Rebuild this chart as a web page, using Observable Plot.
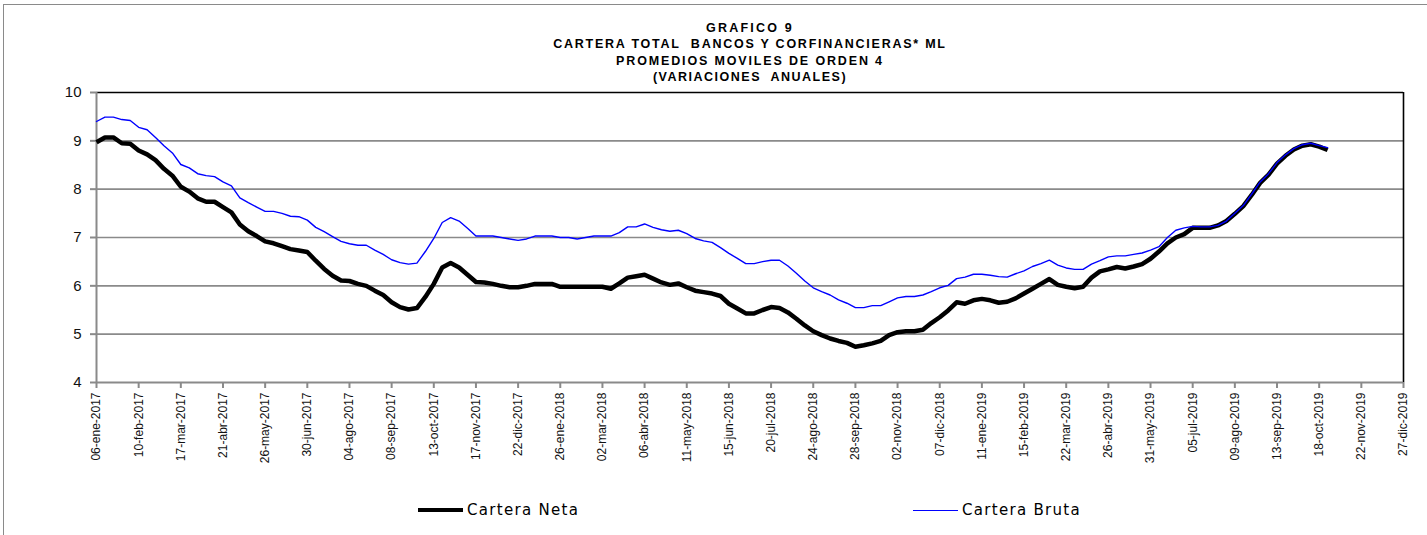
<!DOCTYPE html>
<html>
<head>
<meta charset="utf-8">
<script src="https://cdn.jsdelivr.net/npm/d3@7"></script>
<script src="https://cdn.jsdelivr.net/npm/@observablehq/plot@0.6"></script>
<style>
  html, body { margin: 0; padding: 0; background: #fff; }
  #wrap { position: relative; width: 1427px; height: 535px; overflow: hidden; }
  #frame { position: absolute; left: 3px; top: 4px; width: 1440px; height: 560px;
           border-top: 1.5px solid #8a8a8a; border-left: 1.5px solid #8a8a8a; }
  #title { position: absolute; left: 0; width: 1500px; top: 20px; text-align: center;
           font-family: "Liberation Sans", Arial, sans-serif; font-weight: bold; font-size: 12.5px;
           line-height: 16.3px; color: #000; }
  #title div { white-space: pre; }
  #chart { position: absolute; left: 0; top: 0; }
  .leg { position: absolute; top: 501px; font-family: "DejaVu Sans", Verdana, sans-serif;
         font-size: 15px; letter-spacing: 1.3px; color: #000; display: flex; align-items: center; }
  .leg .sw { display: inline-block; width: 45px; margin-right: 4px; }
</style>
</head>
<body>
<div id="wrap">
  <div id="frame"></div>
  <div id="title"></div>
  <div id="chart"></div>
  <div class="leg" id="leg1" style="left:418px"><span class="sw" style="border-top:4.5px solid #000"></span><span id="l1"></span></div>
  <div class="leg" id="leg2" style="left:913px"><span class="sw" style="border-top:1.5px solid #0000ff"></span><span id="l2"></span></div>
</div>
<script>
const titleLines = [
  "GRAFICO 9",
  "CARTERA TOTAL  BANCOS Y CORFINANCIERAS* ML",
  "PROMEDIOS MOVILES DE ORDEN 4",
  "(VARIACIONES  ANUALES)"
];
const seriesNames = ["Cartera Neta", "Cartera Bruta"];
const firstWeek = "2017-01-06";

const carteraNeta = [
  8.97, 9.07, 9.07, 8.95, 8.94, 8.80, 8.72, 8.60, 8.42, 8.28,
  8.05, 7.95, 7.81, 7.74, 7.74, 7.63, 7.52, 7.27, 7.13, 7.03,
  6.92, 6.88, 6.82, 6.76, 6.73, 6.70, 6.52, 6.35, 6.21, 6.11,
  6.10, 6.04, 6.00, 5.90, 5.81, 5.66, 5.56, 5.51, 5.54, 5.77,
  6.04, 6.38, 6.47, 6.38, 6.23, 6.08, 6.07, 6.04, 6.00, 5.97,
  5.97, 6.00, 6.04, 6.04, 6.04, 5.98, 5.98, 5.98, 5.98, 5.98,
  5.98, 5.94, 6.05, 6.17, 6.20, 6.23, 6.15, 6.07, 6.02, 6.05,
  5.97, 5.90, 5.87, 5.84, 5.79, 5.63, 5.53, 5.43, 5.43, 5.50,
  5.56, 5.54, 5.45, 5.32, 5.18, 5.06, 4.98, 4.91, 4.86, 4.82,
  4.74, 4.77, 4.81, 4.86, 4.98, 5.04, 5.06, 5.06, 5.09, 5.23,
  5.35, 5.49, 5.66, 5.63, 5.70, 5.73, 5.70, 5.65, 5.67, 5.74,
  5.84, 5.94, 6.04, 6.14, 6.02, 5.98, 5.95, 5.98, 6.17, 6.30,
  6.34, 6.39, 6.36, 6.40, 6.45, 6.56, 6.71, 6.88, 7.00, 7.07,
  7.20, 7.20, 7.20, 7.25, 7.34, 7.49, 7.65, 7.88, 8.13, 8.30,
  8.53, 8.69, 8.82, 8.90, 8.93, 8.88, 8.81
];
const carteraBruta = [
  9.40, 9.49, 9.49, 9.44, 9.42, 9.28, 9.23, 9.07, 8.90, 8.75,
  8.51, 8.44, 8.32, 8.28, 8.26, 8.15, 8.07, 7.82, 7.72, 7.63,
  7.54, 7.54, 7.50, 7.44, 7.43, 7.36, 7.21, 7.12, 7.02, 6.92,
  6.87, 6.84, 6.84, 6.74, 6.65, 6.54, 6.48, 6.45, 6.47, 6.71,
  6.98, 7.31, 7.41, 7.34, 7.19, 7.03, 7.03, 7.03, 7.00, 6.97,
  6.94, 6.97, 7.03, 7.03, 7.03, 7.00, 7.00, 6.97, 7.00, 7.03,
  7.03, 7.03, 7.10, 7.22, 7.22, 7.28, 7.21, 7.16, 7.13, 7.15,
  7.08, 6.98, 6.93, 6.90, 6.79, 6.67, 6.57, 6.46, 6.46, 6.50,
  6.53, 6.53, 6.41, 6.26, 6.10, 5.96, 5.88, 5.81, 5.71, 5.64,
  5.55, 5.55, 5.59, 5.59, 5.67, 5.75, 5.78, 5.78, 5.81, 5.88,
  5.96, 6.01, 6.15, 6.18, 6.24, 6.24, 6.22, 6.19, 6.18, 6.25,
  6.31, 6.40, 6.46, 6.53, 6.43, 6.37, 6.34, 6.34, 6.45, 6.52,
  6.60, 6.62, 6.62, 6.65, 6.68, 6.74, 6.81, 7.00, 7.15, 7.20,
  7.23, 7.22, 7.22, 7.25, 7.34, 7.50, 7.66, 7.90, 8.15, 8.32,
  8.55, 8.71, 8.84, 8.92, 8.95, 8.90, 8.86
];
const xTickLabels = [
  "06-ene-2017", "10-feb-2017", "17-mar-2017", "21-abr-2017", "26-may-2017", "30-jun-2017",
  "04-ago-2017", "08-sep-2017", "13-oct-2017", "17-nov-2017", "22-dic-2017", "26-ene-2018",
  "02-mar-2018", "06-abr-2018", "11-may-2018", "15-jun-2018", "20-jul-2018", "24-ago-2018",
  "28-sep-2018", "02-nov-2018", "07-dic-2018", "11-ene-2019", "15-feb-2019", "22-mar-2019",
  "26-abr-2019", "31-may-2019", "05-jul-2019", "09-ago-2019", "13-sep-2019", "18-oct-2019",
  "22-nov-2019", "27-dic-2019"
];
const yTicks = [4, 5, 6, 7, 8, 9, 10];
const yGrid = [5, 6, 7, 8, 9];

const monthIdx = {ene:0, feb:1, mar:2, abr:3, may:4, jun:5, jul:6, ago:7, sep:8, oct:9, nov:10, dic:11};
function parseEs(s) {
  const [d, m, y] = s.split("-");
  return new Date(Date.UTC(+y, monthIdx[m], +d));
}
const tickDates = xTickLabels.map(parseEs);
const labelOf = new Map(tickDates.map((d, i) => [+d, xTickLabels[i]]));
const start = d3.utcParse("%Y-%m-%d")(firstWeek);

const rows = [];
carteraNeta.forEach((v, i) => rows.push({date: d3.utcDay.offset(start, 7 * i), value: v, serie: seriesNames[0]}));
carteraBruta.forEach((v, i) => rows.push({date: d3.utcDay.offset(start, 7 * i), value: v, serie: seriesNames[1]}));

const titleSpacing = ["2.2px", "1.75px", "1.85px", "1.5px"];
const titleEl = document.getElementById("title");
titleLines.forEach((t, i) => {
  const d = document.createElement("div");
  d.textContent = t;
  d.style.letterSpacing = titleSpacing[i];
  titleEl.appendChild(d);
});
document.getElementById("l1").textContent = seriesNames[0];
document.getElementById("l2").textContent = seriesNames[1];

const x0 = tickDates[0], x1 = tickDates[tickDates.length - 1];
const gray = "#8a8a8a";

const chart = Plot.plot({
  width: 1427,
  height: 472,
  marginLeft: 96,
  marginRight: 24,
  marginTop: 92,
  marginBottom: 90,
  style: {fontFamily: "'Liberation Sans', Arial, sans-serif", color: "#111", background: "transparent", overflow: "visible"},
  x: {type: "utc", domain: [x0, x1]},
  y: {domain: [4, 10]},
  marks: [
    Plot.gridY(yGrid, {stroke: gray, strokeOpacity: 1, strokeWidth: 1.6}),
    Plot.ruleY([10], {stroke: "#000", strokeWidth: 1.6}),
    Plot.ruleX([x1], {stroke: "#000", strokeWidth: 1.6}),
    Plot.ruleY([4], {stroke: gray, strokeWidth: 2}),
    Plot.ruleX([x0], {stroke: gray, strokeWidth: 2}),
    Plot.axisY(yTicks, {tickSize: 6, tickPadding: 9, fontSize: 15, stroke: gray, strokeWidth: 2, label: null}),
    Plot.axisX(tickDates, {
      tickSize: 6, tickPadding: 4, tickRotate: -90, fontSize: 12, stroke: gray, strokeWidth: 2,
      tickFormat: d => labelOf.get(+d), label: null
    }),
    Plot.line(rows.filter(r => r.serie === seriesNames[0]), {
      x: "date", y: "value", stroke: "#000", strokeWidth: 4.5, strokeLinejoin: "round", strokeLinecap: "butt"
    }),
    Plot.line(rows.filter(r => r.serie === seriesNames[1]), {
      x: "date", y: "value", stroke: "#0000ff", strokeWidth: 1.4
    })
  ]
});
document.getElementById("chart").appendChild(chart);
</script>
</body>
</html>
